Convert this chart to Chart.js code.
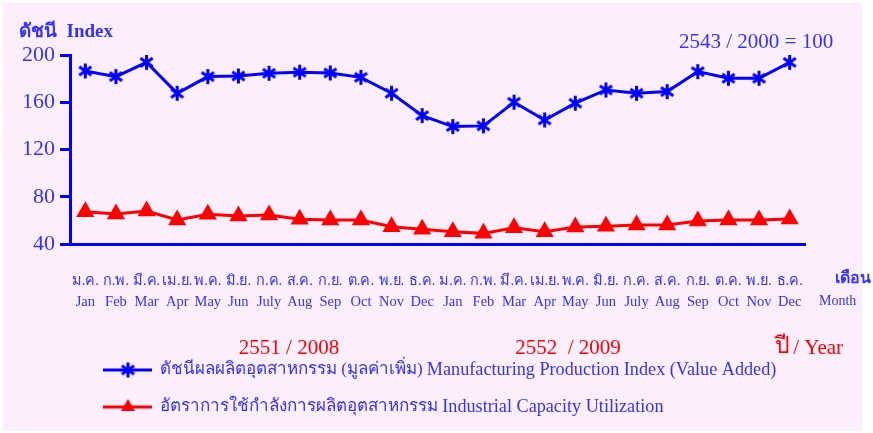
<!DOCTYPE html>
<html>
<head>
<meta charset="utf-8">
<script src="https://cdn.jsdelivr.net/npm/chart.js@4/dist/chart.umd.min.js"></script>
<style>
html,body{margin:0;padding:0;background:#ffffff;}
#wrap{width:873px;height:433px;position:relative;}
</style>
</head>
<body>
<div id="wrap"><canvas id="c" width="873" height="433"></canvas></div>
<script>
const thaiMonths = ["ม.ค.","ก.พ.","มี.ค.","เม.ย.","พ.ค.","มิ.ย.","ก.ค.","ส.ค.","ก.ย.","ต.ค.","พ.ย.","ธ.ค.","ม.ค.","ก.พ.","มี.ค.","เม.ย.","พ.ค.","มิ.ย.","ก.ค.","ส.ค.","ก.ย.","ต.ค.","พ.ย.","ธ.ค."];
const engMonths = ["Jan","Feb","Mar","Apr","May","Jun","July","Aug","Sep","Oct","Nov","Dec","Jan","Feb","Mar","Apr","May","Jun","July","Aug","Sep","Oct","Nov","Dec"];
const productionIndex = [186.5,181.7,193.8,167.6,181.7,182.2,184.5,185.4,184.8,181.1,167.6,148.7,139.4,140.0,160.0,145.0,159.2,170.4,167.6,169.0,185.9,180.3,180.3,193.8];
const capacityUtil = [67.3,65.4,67.9,60.3,65.1,63.7,64.5,60.9,60.3,60.3,54.6,52.4,50.4,49.0,53.8,50.4,54.4,55.0,56.0,56.0,59.4,60.3,60.3,61.1];
const yTicks = [40,80,120,160,200];
const seriesThai = ["ดัชนีผลผลิตอุตสาหกรรม (มูลค่าเพิ่ม)","อัตราการใช้กำลังการผลิตอุตสาหกรรม"];
const seriesEng = ["Manufacturing Production Index (Value Added)","Industrial Capacity Utilization"];
const yearLabels = ["2551 / 2008","2552  / 2009"];

const BLUE = '#0000ff', RED = '#ff0000', TXT = '#3333ff', BG = '#fdeefd';
const SERIF = '"Liberation Serif","Times New Roman",serif';

function makeStar(size, color, lw){
  const c = document.createElement('canvas');
  c.width = size; c.height = size;
  const g = c.getContext('2d');
  g.strokeStyle = color; g.lineWidth = lw; g.lineCap = 'butt';
  const r = size/2 - 1, cx = size/2, cy = size/2;
  g.beginPath();
  g.moveTo(cx, cy - r); g.lineTo(cx, cy + r);
  const a = Math.PI/180*55;
  g.moveTo(cx - r*Math.sin(a), cy - r*Math.cos(a)); g.lineTo(cx + r*Math.sin(a), cy + r*Math.cos(a));
  g.moveTo(cx + r*Math.sin(a), cy - r*Math.cos(a)); g.lineTo(cx - r*Math.sin(a), cy + r*Math.cos(a));
  g.stroke();
  return c;
}
const starImg = makeStar(17, BLUE, 3);

const decor = {
  id:'decor',
  beforeDraw(chart){
    const ctx = chart.ctx;
    ctx.save();
    ctx.fillStyle = '#ffffff'; ctx.fillRect(0,0,873,433);
    ctx.fillStyle = BG; ctx.fillRect(3,3,859,428);
    ctx.restore();
  },
  afterDraw(chart){
    const ctx = chart.ctx;
    ctx.save();
    ctx.textBaseline = 'middle';
    ctx.fillStyle = TXT; ctx.textAlign = 'left';
    ctx.font = 'bold 19px ' + SERIF;
    ctx.fillText('ดัชนี  Index', 19, 32);
    ctx.font = '21px ' + SERIF;
    ctx.fillText('2543 / 2000 = 100', 679, 42);
    ctx.font = 'bold 16px ' + SERIF;
    ctx.fillText('เดือน', 835, 279);
    ctx.font = '14px ' + SERIF;
    ctx.fillText('Month', 819, 301);
    ctx.fillStyle = RED; ctx.textAlign = 'center';
    ctx.font = '21px ' + SERIF;
    ctx.fillText(yearLabels[0], 289, 348);
    ctx.fillText(yearLabels[1], 568, 348);
    ctx.textAlign = 'left';
    ctx.font = '23px ' + SERIF;
    ctx.fillText('ปี', 775, 347);
    ctx.font = '21px ' + SERIF;
    ctx.fillText(' / Year', 788, 348);
    const items = [
      {y:370, color:BLUE, i:0, marker:'star'},
      {y:407, color:RED, i:1, marker:'tri'}
    ];
    items.forEach(it=>{
      ctx.strokeStyle = it.color; ctx.lineWidth = 3;
      ctx.beginPath(); ctx.moveTo(103, it.y); ctx.lineTo(152, it.y); ctx.stroke();
      if (it.marker === 'star') {
        ctx.drawImage(starImg, 128 - 8.5, it.y - 8.5);
      } else {
        ctx.fillStyle = it.color;
        ctx.beginPath(); ctx.moveTo(128, it.y - 8); ctx.lineTo(135, it.y + 4); ctx.lineTo(121, it.y + 4); ctx.closePath(); ctx.fill();
      }
      ctx.fillStyle = TXT;
      ctx.font = '17px ' + SERIF;
      const thai = seriesThai[it.i] + ' ';
      ctx.fillText(thai, 160, it.y);
      const w = ctx.measureText(thai).width;
      ctx.font = '18.2px ' + SERIF;
      ctx.fillText(seriesEng[it.i], 160 + w, it.y);
    });
    ctx.restore();
  }
};

const labels = thaiMonths.map((t,i)=>[t, engMonths[i]]);

new Chart(document.getElementById('c'), {
  type:'line',
  data:{
    labels: labels,
    datasets:[
      {label:seriesThai[0] + ' ' + seriesEng[0], data:productionIndex, borderColor:BLUE, backgroundColor:BLUE, borderWidth:3,
       pointStyle:starImg, pointRadius:8, tension:0},
      {label:seriesThai[1] + ' ' + seriesEng[1], data:capacityUtil, borderColor:RED, backgroundColor:RED, borderWidth:3,
       pointStyle:'triangle', pointRadius:7.5, tension:0}
    ]
  },
  options:{
    responsive:false, animation:false,
    layout:{padding:{left:0, top:55, right:68, bottom:119}},
    plugins:{legend:{display:false}, tooltip:{enabled:false}, title:{display:false}},
    scales:{
      x:{
        offset:true,
        grid:{display:false, drawTicks:false},
        border:{display:true, color:BLUE, width:3},
        ticks:{color:TXT, font:{family:SERIF, size:14.5, lineHeight:1.45}, padding:27, maxRotation:0, autoSkip:false},
        afterFit(s){ s.height = 70; }
      },
      y:{
        min:40, max:200,
        afterBuildTicks(s){ s.ticks = yTicks.map(v=>({value:v})); },
        grid:{drawOnChartArea:false, drawTicks:true, tickLength:10, color:BLUE, lineWidth:3},
        border:{display:true, color:BLUE, width:3},
        ticks:{color:TXT, font:{family:SERIF, size:22}, padding:5},
        afterFit(s){ s.width = 70; }
      }
    }
  },
  plugins:[decor]
});
</script>
</body>
</html>
